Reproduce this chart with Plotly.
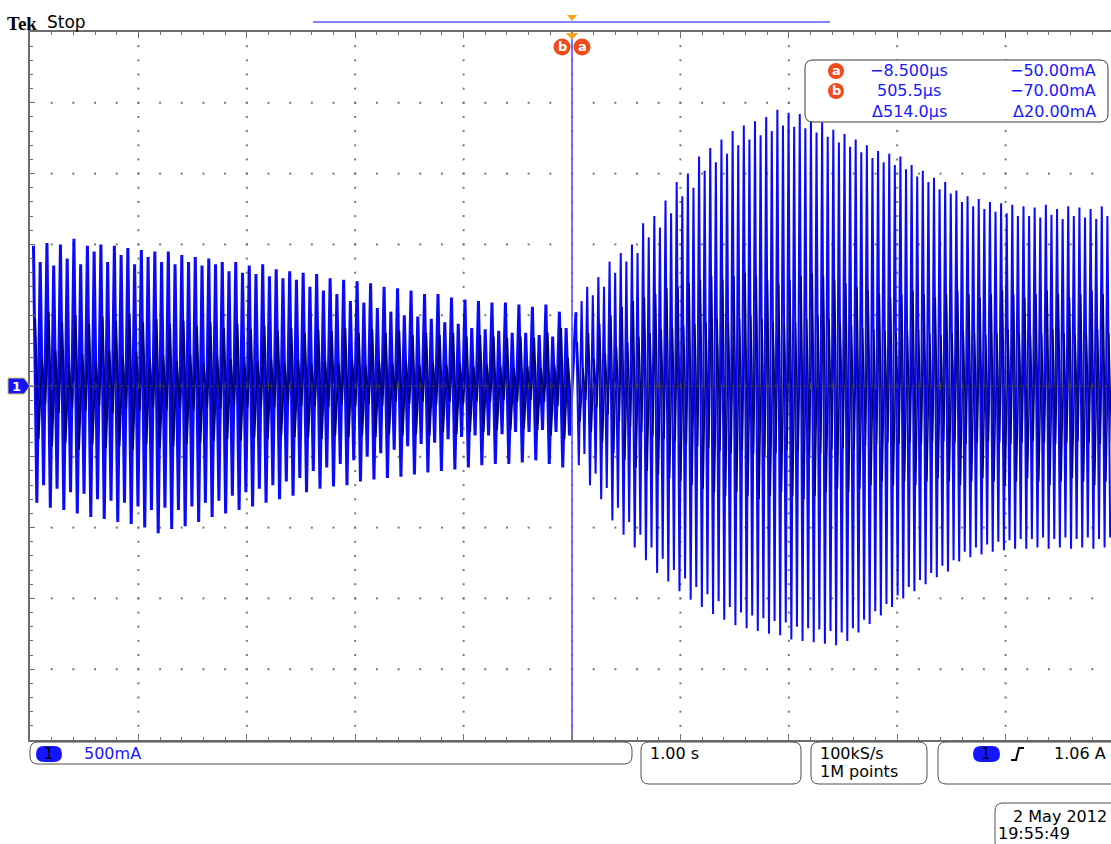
import numpy as np
import plotly.graph_objects as go

W, H = 1111, 844

# ---------------- data read from the screen ----------------
# time base of the oscillation spikes (seconds)
left_t0, left_dt = -4.968, 0.0622
right_t0, right_dt = 0.037, 0.0516

# outer envelope of each spike (mA)
left_peak_mA = [990, 875, 1010, 850, 1000, 900, 1040, 860, 990, 950,
                1000, 875, 990, 925, 975, 860, 960, 910, 950, 875,
                950, 860, 925, 875, 910, 850, 900, 860, 875, 810,
                875, 800, 850, 790, 860, 775, 825, 760, 810, 750,
                800, 700, 790, 675, 760, 650, 750, 600, 740, 590,
                725, 550, 700, 525, 690, 500, 675, 490, 650, 475,
                650, 450, 625, 440, 610, 410, 600, 400, 590, 390,
                590, 375, 575, 375, 560, 360, 575, 350, 525, 410]
left_trough_mA = [-825, -700, -860, -725, -875, -750, -900, -760, -925, -800,
                  -940, -810, -960, -825, -975, -850, -1000, -875, -1040, -860,
                  -1010, -875, -990, -850, -960, -825, -925, -810, -900, -775,
                  -875, -750, -850, -725, -825, -700, -800, -675, -775, -650,
                  -750, -600, -725, -575, -710, -550, -700, -525, -675, -500,
                  -660, -475, -650, -450, -640, -425, -625, -410, -610, -400,
                  -600, -375, -590, -360, -575, -350, -560, -350, -550, -340,
                  -550, -325, -540, -325, -525, -310, -550, -325, -575, -350]
right_peak_mA = [520, 600, 700, 640, 770, 700, 880, 800, 940, 880,
                 1000, 940, 1150, 1050, 1200, 1120, 1310, 1220, 1440, 1340,
                 1500, 1400, 1620, 1520, 1680, 1580, 1740, 1640, 1800, 1700,
                 1840, 1740, 1870, 1770, 1900, 1800, 1950, 1840, 1930, 1830,
                 1920, 1820, 1880, 1790, 1860, 1760, 1810, 1720, 1780, 1690,
                 1740, 1650, 1700, 1610, 1660, 1580, 1640, 1560, 1620, 1530,
                 1560, 1480, 1520, 1440, 1470, 1390, 1440, 1360, 1380, 1300,
                 1340, 1270, 1320, 1250, 1300, 1230, 1290, 1220, 1280, 1200,
                 1270, 1200, 1260, 1190, 1280, 1210, 1250, 1180, 1270, 1200,
                 1260, 1190, 1250, 1180, 1270, 1200]
right_trough_mA = [-560, -480, -700, -620, -800, -720, -950, -860, -1050, -960,
                   -1140, -1050, -1230, -1140, -1320, -1220, -1380, -1300, -1450, -1360,
                   -1510, -1420, -1560, -1470, -1610, -1520, -1650, -1560, -1690, -1600,
                   -1710, -1620, -1730, -1640, -1750, -1660, -1760, -1670, -1790, -1700,
                   -1800, -1710, -1810, -1720, -1820, -1730, -1830, -1740, -1800, -1710,
                   -1740, -1650, -1680, -1590, -1620, -1540, -1560, -1480, -1500, -1420,
                   -1450, -1370, -1400, -1320, -1350, -1270, -1310, -1230, -1240, -1170,
                   -1210, -1140, -1190, -1120, -1170, -1100, -1160, -1090, -1150, -1080,
                   -1150, -1080, -1140, -1070, -1150, -1080, -1140, -1070, -1150, -1080,
                   -1140, -1070, -1150, -1080, -1140, -1070]

# inner (dense, darker) oscillation (mA)
left_inner_peak_mA = [475, 190, 525, 250, 450, 150, 500, 225, 440, 175,
                      490, 250, 460, 200, 510, 240, 450, 190, 475, 210,
                      440, 175, 460, 225, 425, 160, 450, 210, 410, 190,
                      440, 200, 400, 175, 425, 190, 390, 160, 410, 190,
                      375, 150, 400, 175, 390, 160, 410, 190, 375, 150,
                      400, 175, 375, 160, 390, 175, 360, 150, 375, 160,
                      360, 150, 375, 160, 350, 140, 360, 150, 350, 140,
                      340, 125, 350, 140, 340, 125, 375, 150, 410, 200]
left_inner_trough_mA = [-375, -125, -425, -190, -400, -150, -450, -175, -410, -140,
                        -440, -190, -425, -160, -450, -175, -410, -150, -440, -175,
                        -425, -160, -410, -175, -400, -150, -390, -160, -375, -140,
                        -390, -150, -360, -140, -375, -150, -350, -125, -360, -140,
                        -360, -140, -375, -150, -350, -125, -360, -140, -350, -125,
                        -360, -140, -340, -110, -350, -125, -340, -110, -350, -125,
                        -325, -110, -340, -125, -325, -110, -325, -110, -310, -100,
                        -310, -110, -300, -100, -310, -110, -350, -140, -375, -160]
right_inner_peak_mA = [310, 125, 375, 190, 440, 225, 500, 275, 560, 310,
                       600, 350, 625, 375, 650, 400, 690, 410, 700, 425,
                       725, 440, 750, 450, 775, 475, 750, 450, 775, 475,
                       800, 500, 775, 475, 750, 450, 725, 440, 750, 450,
                       775, 475, 800, 500, 775, 475, 750, 450, 725, 425,
                       700, 410, 675, 400, 650, 390, 625, 375, 650, 390,
                       675, 400, 650, 375, 625, 360, 650, 375, 675, 390,
                       650, 375, 625, 360, 650, 375, 675, 400, 650, 375,
                       625, 360, 650, 375, 675, 400, 650, 375, 625, 360,
                       650, 375, 675, 400, 650, 375]
right_inner_trough_mA = [-250, -100, -325, -150, -400, -200, -475, -250, -525, -290,
                         -575, -325, -600, -350, -625, -375, -650, -390, -675, -410,
                         -700, -425, -725, -440, -750, -460, -775, -475, -750, -450,
                         -775, -475, -800, -500, -775, -475, -750, -450, -775, -460,
                         -800, -490, -775, -475, -750, -450, -725, -440, -750, -450,
                         -725, -425, -700, -410, -675, -400, -700, -410, -675, -400,
                         -700, -410, -675, -400, -650, -390, -675, -400, -700, -410,
                         -675, -400, -650, -390, -675, -400, -700, -410, -675, -400,
                         -650, -390, -675, -400, -700, -410, -675, -400, -650, -390,
                         -675, -400, -700, -410, -675, -400]

cursor_a_t, cursor_b_t = -8.5e-6, 505.5e-6

readout_rows = [("a", "\u22128.500\u00b5s", "\u221250.00mA"),
                ("b", "505.5\u00b5s", "\u221270.00mA"),
                ("", "\u0394514.0\u00b5s", "\u039420.00mA")]

# ---------------- geometry helpers ----------------
X_LEFT_PX, X_CENTER_PX = 30, 572
Y_TOP_PX, Y_BOT_PX = 32, 740
px_per_s = (X_CENTER_PX - X_LEFT_PX) / 5.0
x_range = [-5.0, (W - X_CENTER_PX) / px_per_s]


def PX(x):
    return x / W


def PY(y):
    return 1 - y / H


def zigzag(t0, dt, tops, bots, phase=0.0):
    xs, ys = [], []
    for i, (a, b) in enumerate(zip(tops, bots)):
        t = t0 + (i + phase) * dt
        xs += [t, t + dt / 2]
        ys += [a / 1000.0, b / 1000.0]
    return xs, ys


def rrect(x0, y0, x1, y1, r):
    pts = [("M", [(x0 + r, y0)]), ("L", [(x1 - r, y0)]), ("Q", [(x1, y0), (x1, y0 + r)]),
           ("L", [(x1, y1 - r)]), ("Q", [(x1, y1), (x1 - r, y1)]), ("L", [(x0 + r, y1)]),
           ("Q", [(x0, y1), (x0, y1 - r)]), ("L", [(x0, y0 + r)]), ("Q", [(x0, y0), (x0 + r, y0)])]
    s = ""
    for cmd, p in pts:
        s += cmd + " " + " ".join(f"{PX(a):.5f},{PY(b):.5f}" for a, b in p) + " "
    return s + "Z"


def poly(points):
    return "M " + " L ".join(f"{PX(a):.5f},{PY(b):.5f}" for a, b in points) + " Z"


fig = go.Figure()

# graticule dots
gx, gy = [], []
for xv in range(-4, 5):
    for yv in np.arange(-2.4, 2.41, 0.1):
        gx.append(xv); gy.append(yv)
for yv in np.arange(-2.0, 2.01, 0.5):
    if abs(yv) < 1e-9:
        continue
    for xv in np.arange(-4.8, 4.81, 0.2):
        gx.append(xv); gy.append(yv)
fig.add_trace(go.Scatter(x=gx, y=gy, mode="markers",
                         marker=dict(symbol="square", size=2, color="rgb(120,120,120)"),
                         hoverinfo="skip"))

# waveform
BLUE = "rgb(10,10,250)"
NAVY = "rgb(0,0,125)"
lx, ly = zigzag(left_t0, left_dt, left_peak_mA, left_trough_mA)
rx, ry = zigzag(right_t0, right_dt, right_peak_mA, right_trough_mA)
fig.add_trace(go.Scatter(x=lx + [rx[0]], y=ly + [ry[0]], mode="lines",
                         line=dict(color=BLUE, width=3.0), hoverinfo="skip"))
fig.add_trace(go.Scatter(x=rx, y=ry, mode="lines",
                         line=dict(color=BLUE, width=2.0), hoverinfo="skip"))
ilx, ily = zigzag(left_t0, left_dt, left_inner_peak_mA, left_inner_trough_mA, phase=0.25)
irx, iry = zigzag(right_t0, right_dt, right_inner_peak_mA, right_inner_trough_mA, phase=0.25)
fig.add_trace(go.Scatter(x=ilx, y=ily, mode="lines",
                         line=dict(color=NAVY, width=2.0), hoverinfo="skip"))
fig.add_trace(go.Scatter(x=irx, y=iry, mode="lines",
                         line=dict(color=NAVY, width=1.4), hoverinfo="skip"))

# centre horizontal line with ticks
fig.add_trace(go.Scatter(x=[-5, 5], y=[0, 0], mode="lines",
                         line=dict(color="rgb(70,70,70)", width=1, dash="dot"), hoverinfo="skip"))
ctx = list(np.arange(-4.8, 4.81, 0.2))
fig.add_trace(go.Scatter(x=ctx, y=[0] * len(ctx), mode="markers",
                         marker=dict(symbol="line-ns", size=5, line=dict(width=1, color="rgb(70,70,70)")),
                         hoverinfo="skip"))

# cursors
for ct in (cursor_b_t, cursor_a_t):
    fig.add_trace(go.Scatter(x=[ct, ct], y=[-2.5, 2.5], mode="lines",
                             line=dict(color="rgb(90,90,255)", width=1.2), hoverinfo="skip"))

shapes = []
annotations = []


def text(x, y, s, size=15, color="black", family="DejaVu Sans", xanchor="left", bold=False):
    annotations.append(dict(x=PX(x), y=PY(y), xref="paper", yref="paper", text=("<b>%s</b>" % s) if bold else s,
                            showarrow=False, xanchor=xanchor, yanchor="middle",
                            font=dict(size=size, color=color, family=family)))


def circ_label(cx, cy, r, letter):
    shapes.append(dict(type="circle", xref="paper", yref="paper", x0=PX(cx - r), x1=PX(cx + r),
                       y0=PY(cy + r), y1=PY(cy - r), fillcolor="rgb(240,75,25)", line=dict(width=0)))
    text(cx, cy, letter, size=13, color="white", xanchor="center", bold=True)


# top bar
text(5, 23, "Tek", size=19, family="Liberation Serif", bold=True)
text(45, 22, "Stop", size=17)
shapes.append(dict(type="line", xref="paper", yref="paper", x0=PX(313), x1=PX(830), y0=PY(22), y1=PY(22),
                   line=dict(color="rgb(90,90,255)", width=1.3)))
shapes.append(dict(type="path", xref="paper", yref="paper", path=poly([(567, 15), (577, 15), (572, 21)]),
                   fillcolor="rgb(255,160,30)", line=dict(width=0)))
shapes.append(dict(type="path", xref="paper", yref="paper", path=poly([(566, 33), (578, 33), (572, 40)]),
                   fillcolor="rgb(255,160,30)", line=dict(width=0)))
circ_label(562, 47, 8.5, "b")
circ_label(582, 47, 8.5, "a")

# readout box
shapes.append(dict(type="path", xref="paper", yref="paper", path=rrect(805, 60, 1108, 122, 8),
                   fillcolor="white", line=dict(color="rgb(60,60,60)", width=1)))
for i, (lab, tv, av) in enumerate(readout_rows):
    yy = 71 + 20 * i
    if lab:
        circ_label(836, yy, 8, lab)
    text(909, yy, tv, size=16, color="rgb(25,25,255)", xanchor="center")
    text(1098, yy, av, size=16, color="rgb(25,25,255)", xanchor="right")

# channel ground marker
shapes.append(dict(type="path", xref="paper", yref="paper",
                   path=poly([(8, 378), (24, 378), (30, 386), (24, 394), (8, 394)]),
                   fillcolor="rgb(20,20,255)", line=dict(color="rgb(210,200,90)", width=1)))
text(16, 386, "1", size=13, color="white", xanchor="center", bold=True)

# bottom status boxes
for (x0, y0, x1, y1) in [(30, 742, 632, 764), (641, 742, 801, 784), (811, 742, 927, 784),
                         (938, 742, 1125, 784), (995, 803, 1125, 850)]:
    shapes.append(dict(type="path", xref="paper", yref="paper", path=rrect(x0, y0, x1, y1, 8),
                       fillcolor="white", line=dict(color="rgb(80,80,80)", width=1)))
for (x0, x1) in [(36, 62), (973, 1000)]:
    shapes.append(dict(type="path", xref="paper", yref="paper", path=rrect(x0, 746, x1, 762, 8),
                       fillcolor="rgb(20,20,255)", line=dict(width=0)))
text(49, 754, "1", size=15, xanchor="center")
text(986, 754, "1", size=15, xanchor="center")
text(82, 753, "500mA", size=16, color="rgb(25,25,255)")
text(648, 753, "1.00 s", size=16)
text(818, 753, "100kS/s", size=16)
text(818, 771, "1M points", size=16)
text(1108, 753, "1.06 A", size=16, xanchor="right")
shapes.append(dict(type="path", xref="paper", yref="paper",
                   path="M " + " L ".join(f"{PX(a):.5f},{PY(b):.5f}" for a, b in
                                          [(1011, 760), (1016, 760), (1019, 748), (1024, 748)]),
                   line=dict(color="black", width=2)))
text(1109, 816, "2 May 2012", size=16, xanchor="right")
text(996, 833, "19:55:49", size=16)

axis_col = "rgb(110,110,110)"
fig.update_layout(
    width=W, height=H, margin=dict(l=0, r=0, t=0, b=0),
    paper_bgcolor="white", plot_bgcolor="white", showlegend=False,
    xaxis=dict(domain=[X_LEFT_PX / W, 1.0], range=x_range, showgrid=False, zeroline=False,
               showticklabels=False, showline=True, linecolor=axis_col, linewidth=2, mirror="ticks",
               ticks="inside", tick0=0, dtick=1, ticklen=6, tickcolor=axis_col, tickwidth=1,
               minor=dict(ticks="inside", dtick=0.2, ticklen=3, tickcolor=axis_col)),
    yaxis=dict(domain=[PY(Y_BOT_PX), PY(Y_TOP_PX)], range=[-2.5, 2.5], showgrid=False, zeroline=False,
               showticklabels=False, showline=True, linecolor=axis_col, linewidth=2,
               ticks="inside", tick0=0, dtick=0.5, ticklen=5, tickcolor=axis_col, tickwidth=1,
               minor=dict(ticks="inside", dtick=0.1, ticklen=3, tickcolor=axis_col)),
    shapes=shapes, annotations=annotations,
)

fig.write_html("out.html")
